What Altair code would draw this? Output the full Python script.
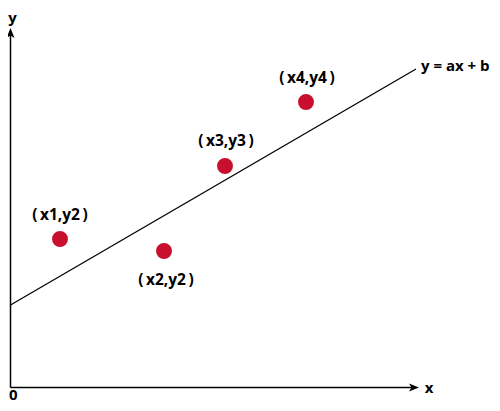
import altair as alt
import pandas as pd

# Coordinates: origin at the axes corner, 1 unit = 1 px, y upward
point_x = [49.5, 153.5, 214.5, 295.5]
point_y = [148.5, 136.5, 221.5, 285.5]
point_labels = ["(\u2009x1,y2\u2009)", "(\u2009x2,y2\u2009)", "(\u2009x3,y3\u2009)", "(\u2009x4,y4\u2009)"]
label_x = [49.5, 155.5, 215.5, 296.5]
label_y = [172.5, 107.5, 246.5, 309.5]

fit_x = [0, 405.5]
fit_y = [82.5, 318.5]
fit_label = "y = ax + b"
fit_label_pos = [410.5, 321.5]

axis_x_end = 404
axis_y_end = 354
arrow_tip_x = 403.5   # center of x arrowhead symbol
arrow_tip_y = 354.5   # center of y arrowhead symbol
axis_names = ["x", "y"]
axis_name_x = [418.5, 2.0]
axis_name_y = [-0.5, 370.0]
origin_label = "0"
origin_pos = [-1.5, -7.5]

xs = alt.Scale(domain=[-2.5, 481.5], nice=False, zero=False)
ys = alt.Scale(domain=[-15.5, 379.5], nice=False, zero=False)
FONT = "Open Sans"

def X():
    return alt.X("x:Q", scale=xs, axis=None)

def Y():
    return alt.Y("y:Q", scale=ys, axis=None)

axes_df = pd.DataFrame({"x": [0, 0], "y": [0, 0], "x2": [axis_x_end, 0], "y2": [0, axis_y_end]})
axes = alt.Chart(axes_df).mark_rule(color="black", strokeWidth=1.5).encode(
    x=X(), y=Y(), x2="x2:Q", y2="y2:Q",
)

up_df = pd.DataFrame({"x": [0], "y": [arrow_tip_y]})
up_arrow = alt.Chart(up_df).mark_point(
    shape="M0,-1 L0.8,1 L0,0.5 L-0.8,1 Z", filled=True, color="black", size=100, opacity=1, strokeWidth=0
).encode(x=X(), y=Y())

right_df = pd.DataFrame({"x": [arrow_tip_x], "y": [0]})
right_arrow = alt.Chart(right_df).mark_point(
    shape="M1,0 L-1,-0.8 L-0.5,0 L-1,0.8 Z", filled=True, color="black", size=100, opacity=1, strokeWidth=0
).encode(x=X(), y=Y())

line_df = pd.DataFrame({"x": fit_x, "y": fit_y})
fit_line = alt.Chart(line_df).mark_line(color="black", strokeWidth=1.3).encode(x=X(), y=Y())

pts_df = pd.DataFrame({"x": point_x, "y": point_y})
points = alt.Chart(pts_df).mark_circle(color="#c8102e", size=254, opacity=1).encode(x=X(), y=Y())

lab_df = pd.DataFrame({"x": label_x, "y": label_y, "t": point_labels})
labels = alt.Chart(lab_df).mark_text(
    font=FONT, fontSize=15.5, fontWeight="bold", color="black", align="center", baseline="middle"
).encode(x=X(), y=Y(), text="t:N")

fl_df = pd.DataFrame({"x": [fit_label_pos[0]], "y": [fit_label_pos[1]], "t": [fit_label]})
fit_text = alt.Chart(fl_df).mark_text(
    font=FONT, fontSize=15, fontWeight="bold", color="black", align="left", baseline="middle"
).encode(x=X(), y=Y(), text="t:N")

an_df = pd.DataFrame({"x": axis_name_x, "y": axis_name_y, "t": axis_names})
axis_text = alt.Chart(an_df).mark_text(
    font=FONT, fontSize=15, fontWeight="bold", color="black", align="center", baseline="middle"
).encode(x=X(), y=Y(), text="t:N")

o_df = pd.DataFrame({"x": [origin_pos[0]], "y": [origin_pos[1]], "t": [origin_label]})
origin_text = alt.Chart(o_df).mark_text(
    font=FONT, fontSize=15, fontWeight="bold", color="black", align="left", baseline="middle"
).encode(x=X(), y=Y(), text="t:N")

chart = alt.layer(axes, up_arrow, right_arrow, fit_line, points, labels, fit_text, axis_text, origin_text).properties(
    width=484, height=395, autosize=alt.AutoSizeParams(type="none"), padding=0, background="white"
).configure_view(stroke=None)

chart.save("out.html", embed_options={"renderer": "svg", "actions": False})
